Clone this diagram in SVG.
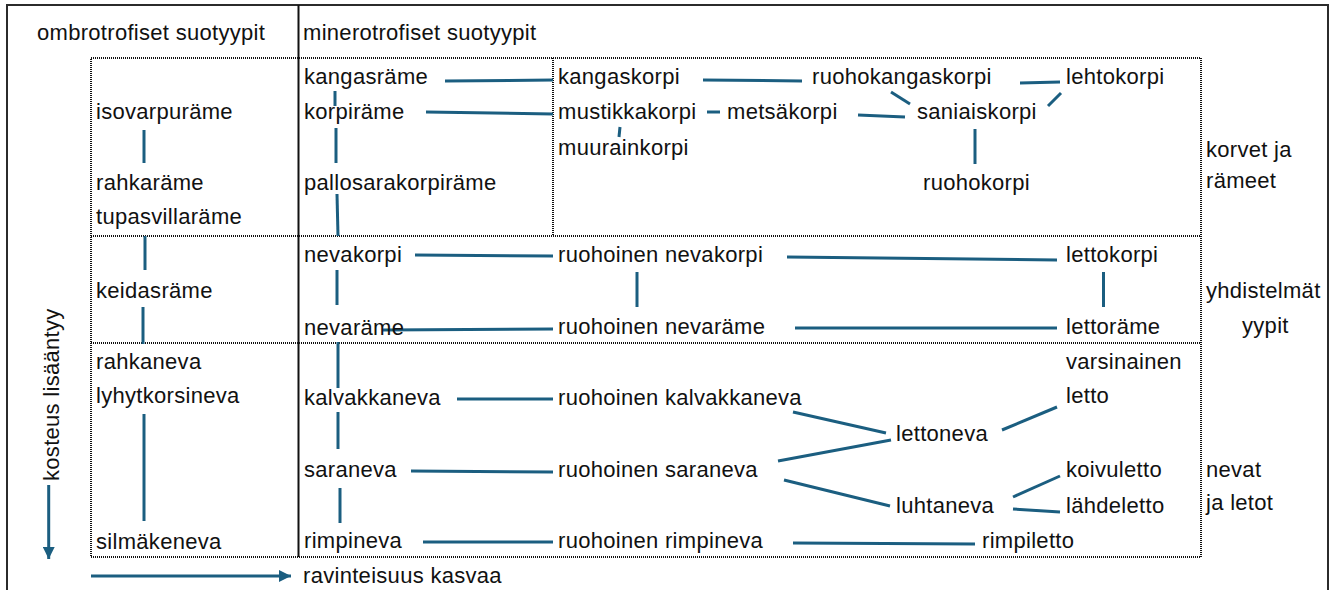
<svg xmlns="http://www.w3.org/2000/svg" width="1341" height="590" viewBox="0 0 1341 590">
<defs>
<style>
text{font-family:"Liberation Sans",Arial,sans-serif;font-size:22px;letter-spacing:0.3px;fill:#111}
.c{stroke:#1b5e80;stroke-width:3;fill:none;stroke-linecap:butt}
.d{stroke:#111;stroke-width:2;stroke-dasharray:1 1;fill:none}
</style>
<marker id="ah" viewBox="0 0 10 10" refX="10" refY="5" markerWidth="4" markerHeight="4" markerUnits="strokeWidth" orient="auto">
<path d="M0,0 L10,5 L0,10 Z" fill="#1b5e80"/>
</marker>
</defs>
<rect width="1341" height="590" fill="#fff"/>
<g id="frame">
<path d="M7,600 V5 H1328 V600" fill="none" stroke="#2b2b2b" stroke-width="2"/>
<line x1="298.5" y1="5" x2="298.5" y2="557" stroke="#111" stroke-width="2"/>
<rect class="d" x="91" y="58" width="1110" height="499"/>
<line class="d" x1="91" y1="236" x2="1201" y2="236"/>
<line class="d" x1="91" y1="343" x2="1201" y2="343"/>
<line class="d" x1="553" y1="58" x2="553" y2="236"/>
</g>
<g id="headers">
<text x="37" y="40">ombrotrofiset suotyypit</text>
<text x="303" y="40">minerotrofiset suotyypit</text>
<text x="1206" y="157">korvet ja</text>
<text x="1206" y="188">rämeet</text>
<text x="1206" y="298">yhdistelmät</text>
<text x="1242" y="333">yypit</text>
<text x="1206" y="477">nevat</text>
<text x="1206" y="510">ja letot</text>
</g>
<g id="axes">
<text transform="translate(59,481) rotate(-90)">kosteus lisääntyy</text>
<line class="c" x1="48.7" y1="485" x2="48.7" y2="559" marker-end="url(#ah)"/>
<line class="c" x1="91" y1="576" x2="291" y2="576" marker-end="url(#ah)"/>
<text x="303" y="583">ravinteisuus kasvaa</text>
</g>
<g id="connectors">
<path class="c" d="M144,130 V163"/>
<path class="c" d="M145,236 V270"/>
<path class="c" d="M143,307 V344"/>
<path class="c" d="M144,414 V521"/>
<path class="c" d="M335,91 V106"/>
<path class="c" d="M336,128 V163"/>
<path class="c" d="M337,194 L338,236"/>
<path class="c" d="M337,270 V305"/>
<path class="c" d="M338,342 V388"/>
<path class="c" d="M338,412 V449"/>
<path class="c" d="M340,488 V523"/>
<path class="c" d="M445,81 L553,80"/>
<path class="c" d="M426,112 L553,114"/>
<path class="c" d="M415,255 L553,256"/>
<path class="c" d="M383,330 L553,329"/>
<path class="c" d="M457,399 L553,399"/>
<path class="c" d="M411,471 L553,472"/>
<path class="c" d="M423,542 L553,542"/>
<path class="c" d="M703,80 L802,81"/>
<path class="c" d="M1020,83 L1060,82"/>
<path class="c" d="M891,92 L910,104"/>
<path class="c" d="M1061,93 L1048,106"/>
<path class="c" d="M707,112 L720,112"/>
<path class="c" d="M858,115 L905,117"/>
<path class="c" d="M620,127 L619,137"/>
<path class="c" d="M975,129 V164"/>
<path class="c" d="M787,257 L1057,260"/>
<path class="c" d="M637,272 V307"/>
<path class="c" d="M1103.5,272 V307"/>
<path class="c" d="M795,328 L1057,328"/>
<path class="c" d="M793,412 L886,433"/>
<path class="c" d="M778,461 L891,440"/>
<path class="c" d="M784,480 L890,506"/>
<path class="c" d="M1002,430 L1057,407"/>
<path class="c" d="M1013,497 L1060,476"/>
<path class="c" d="M1013,509 L1060,512"/>
<path class="c" d="M793,543 L975,544"/>
</g>
<g id="n-isovarpurame"><text x="96" y="119">isovarpuräme</text></g>
<g id="n-rahkarame"><text x="96" y="190">rahkaräme</text></g>
<g id="n-tupasvillarame"><text x="96" y="224">tupasvillaräme</text></g>
<g id="n-keidasrame"><text x="96" y="298">keidasräme</text></g>
<g id="n-rahkaneva"><text x="96" y="369">rahkaneva</text></g>
<g id="n-lyhytkorsineva"><text x="96" y="403">lyhytkorsineva</text></g>
<g id="n-silmakeneva"><text x="96" y="549">silmäkeneva</text></g>
<g id="n-kangasrame"><text x="304" y="84">kangasräme</text></g>
<g id="n-korpirame"><text x="304" y="119">korpiräme</text></g>
<g id="n-pallosarakorpirame"><text x="304" y="190">pallosarakorpiräme</text></g>
<g id="n-nevakorpi"><text x="304" y="262">nevakorpi</text></g>
<g id="n-nevarame"><text x="304" y="335">nevaräme</text></g>
<g id="n-kalvakkaneva"><text x="304" y="405">kalvakkaneva</text></g>
<g id="n-saraneva"><text x="304" y="477">saraneva</text></g>
<g id="n-rimpineva"><text x="304" y="548">rimpineva</text></g>
<g id="n-kangaskorpi"><text x="558" y="84">kangaskorpi</text></g>
<g id="n-mustikkakorpi"><text x="558" y="119">mustikkakorpi</text></g>
<g id="n-muurainkorpi"><text x="558" y="155">muurainkorpi</text></g>
<g id="n-ruohoinen-nevakorpi"><text x="558" y="262">ruohoinen nevakorpi</text></g>
<g id="n-ruohoinen-nevarame"><text x="558" y="334">ruohoinen nevaräme</text></g>
<g id="n-ruohoinen-kalvakkaneva"><text x="558" y="405">ruohoinen kalvakkaneva</text></g>
<g id="n-ruohoinen-saraneva"><text x="558" y="477">ruohoinen saraneva</text></g>
<g id="n-ruohoinen-rimpineva"><text x="558" y="548">ruohoinen rimpineva</text></g>
<g id="n-metsakorpi"><text x="727" y="119">metsäkorpi</text></g>
<g id="n-ruohokangaskorpi"><text x="812" y="84">ruohokangaskorpi</text></g>
<g id="n-saniaiskorpi"><text x="917" y="119">saniaiskorpi</text></g>
<g id="n-ruohokorpi"><text x="923" y="190">ruohokorpi</text></g>
<g id="n-lehtokorpi"><text x="1066" y="84">lehtokorpi</text></g>
<g id="n-lettokorpi"><text x="1066" y="262">lettokorpi</text></g>
<g id="n-lettorame"><text x="1066" y="334">lettoräme</text></g>
<g id="n-varsinainen-letto"><text x="1066" y="369">varsinainen</text><text x="1066" y="403">letto</text></g>
<g id="n-lettoneva"><text x="896" y="441">lettoneva</text></g>
<g id="n-koivuletto"><text x="1066" y="477">koivuletto</text></g>
<g id="n-luhtaneva"><text x="896" y="513">luhtaneva</text></g>
<g id="n-lahdeletto"><text x="1066" y="513">lähdeletto</text></g>
<g id="n-rimpiletto"><text x="982" y="548">rimpiletto</text></g>
</svg>
